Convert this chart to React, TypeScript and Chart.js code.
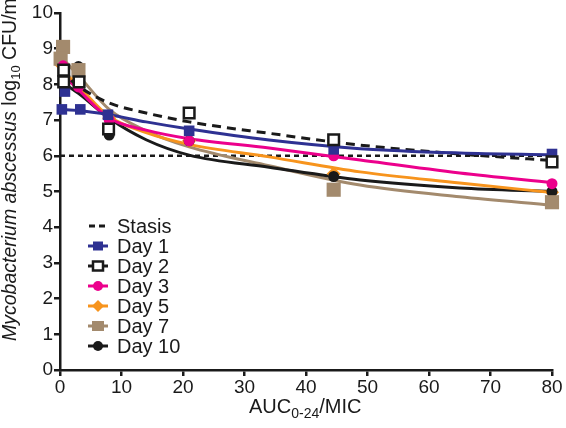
import React, { useEffect, useRef } from "react";
import { Chart, registerables } from "chart.js";

Chart.register(...registerables);

// Measured points (AUC0-24/MIC, log10 CFU/ml)
const day1X = [0.3, 0.8, 3.3, 7.8, 21, 44.5, 80];
const day1Y = [7.3, 7.8, 7.3, 7.15, 6.7, 6.18, 6.05];
const day2X = [0.6, 0.6, 3.1, 7.9, 21, 44.5, 80];
const day2Y = [8.4, 8.07, 8.07, 6.75, 7.2, 6.45, 5.83];
const day3X = [0.5, 3, 8, 21, 44.5, 80];
const day3Y = [8.52, 7.93, 7.0, 6.42, 6.0, 5.22];
const day5X = [0.2, 3, 8, 21, 44.5, 80];
const day5Y = [8.55, 8.2, 7.05, 6.42, 5.5, 4.98];
const day7X = [0.5, 0.1, 3, 44.5, 80];
const day7Y = [9.05, 8.72, 8.4, 5.05, 4.7];
const day10X = [0.3, 3, 8, 21, 44.5, 80];
const day10Y = [9.05, 8.5, 6.58, 6.42, 5.42, 5.0];

// Fitted curves
const fitX = [0, 3, 8, 14, 21, 34, 48.8, 65, 80];
const day1Fit = [7.3, 7.27, 7.15, 6.95, 6.75, 6.44, 6.2, 6.08, 6.03];
const day2Fit = [8.4, 7.95, 7.48, 7.2, 6.95, 6.63, 6.3, 6.05, 5.87];
const day3Fit = [8.35, 7.85, 7.05, 6.72, 6.48, 6.22, 5.88, 5.52, 5.25];
const day5Fit = [8.45, 7.95, 7.1, 6.65, 6.32, 5.97, 5.55, 5.24, 4.97];
const day7Fit = [8.8, 8.25, 7.3, 6.7, 6.25, 5.72, 5.18, 4.85, 4.62];
const day10Fit = [8.1, 7.75, 7.05, 6.45, 6.02, 5.68, 5.32, 5.1, 5.0];

const stasisX = [0, 80];
const stasisY = [6, 6];

const legendLabels = ["Stasis", "Day 1", "Day 2", "Day 3", "Day 5", "Day 7", "Day 10"];

const BLUE = "#2E3192";
const MAGENTA = "#EC008C";
const ORANGE = "#F7941D";
const TAN = "#A38A6D";
const BLACK = "#1A1A1A";
const FONT = "'Liberation Sans', Arial, sans-serif";

const pts = (xs: number[], ys: number[]) => xs.map((x, i) => ({ x, y: ys[i] }));

const markerSet = (label: string, xs: number[], ys: number[], style: string, radius: number, fill: string, border: string, bw: number) => ({
  label,
  data: pts(xs, ys),
  showLine: false,
  pointStyle: style,
  pointRadius: radius,
  pointBackgroundColor: fill,
  pointBorderColor: border,
  pointBorderWidth: bw,
  borderColor: border,
  backgroundColor: fill,
  clip: false as any,
});

const curveSet = (label: string, ys: number[], color: string, dash: number[] = []) => ({
  label,
  data: pts(fitX, ys),
  borderColor: color,
  borderWidth: 3,
  borderDash: dash,
  pointRadius: 0,
  cubicInterpolationMode: "monotone" as const,
  fill: false,
  clip: false as any,
});

const drawMarker = (ctx: CanvasRenderingContext2D, kind: string, x: number, y: number, fill: string, stroke: string) => {
  ctx.beginPath();
  if (kind === "rect") {
    ctx.rect(x - 5, y - 4.5, 10, 9);
  } else if (kind === "bigrect") {
    ctx.rect(x - 6, y - 5, 12, 10);
  } else if (kind === "circle") {
    ctx.arc(x, y, 5, 0, Math.PI * 2);
  } else if (kind === "diamond") {
    ctx.moveTo(x, y - 6);
    ctx.lineTo(x + 6, y);
    ctx.lineTo(x, y + 6);
    ctx.lineTo(x - 6, y);
    ctx.closePath();
  }
  ctx.fillStyle = fill;
  ctx.fill();
  if (stroke) {
    ctx.lineWidth = 2.5;
    ctx.strokeStyle = stroke;
    ctx.stroke();
  }
};

const annotPlugin = {
  id: "annot",
  afterDraw(chart: any) {
    const ctx: CanvasRenderingContext2D = chart.ctx;
    ctx.save();
    // Legend
    const legY = [226, 246, 266, 286, 306, 326, 346];
    const kinds = [
      null,
      { kind: "rect", color: BLUE, fill: BLUE, stroke: "" },
      { kind: "rect", color: BLACK, fill: "#fff", stroke: BLACK },
      { kind: "circle", color: MAGENTA, fill: MAGENTA, stroke: "" },
      { kind: "diamond", color: ORANGE, fill: ORANGE, stroke: "" },
      { kind: "bigrect", color: TAN, fill: TAN, stroke: "" },
      { kind: "circle", color: BLACK, fill: BLACK, stroke: "" },
    ];
    legendLabels.forEach((lab, i) => {
      const y = legY[i];
      const k = kinds[i];
      if (!k) {
        ctx.fillStyle = BLACK;
        ctx.fillRect(89, y - 1.5, 6, 3);
        ctx.fillRect(99, y - 1.5, 6, 3);
      } else {
        ctx.strokeStyle = k.color;
        ctx.lineWidth = 3;
        ctx.beginPath();
        ctx.moveTo(88, y);
        ctx.lineTo(108, y);
        ctx.stroke();
        drawMarker(ctx, k.kind, 98, y, k.fill, k.stroke);
      }
      ctx.fillStyle = BLACK;
      ctx.font = `20px ${FONT}`;
      ctx.textAlign = "left";
      ctx.textBaseline = "middle";
      ctx.fillText(lab, 117, y + 1);
    });

    // X title
    ctx.textBaseline = "alphabetic";
    ctx.textAlign = "left";
    let x = 249;
    const by = 413;
    ctx.font = `20px ${FONT}`;
    ctx.fillText("AUC", x, by);
    x += ctx.measureText("AUC").width;
    ctx.font = `14px ${FONT}`;
    ctx.fillText("0-24", x, by + 5);
    x += ctx.measureText("0-24").width;
    ctx.font = `20px ${FONT}`;
    ctx.fillText("/MIC", x, by);

    // Y title
    ctx.translate(16, 341);
    ctx.rotate(-Math.PI / 2);
    let t = 0;
    const parts: [string, string, number][] = [
      ["Mycobacterium abscessus", `italic 19.5px ${FONT}`, 0],
      [" log", `19.5px ${FONT}`, 0],
      ["10", `13px ${FONT}`, 4],
      [" CFU/ml", `19.5px ${FONT}`, 0],
    ];
    parts.forEach(([s, f, dy]) => {
      ctx.font = f;
      ctx.fillText(s, t, dy);
      t += ctx.measureText(s).width;
    });
    ctx.restore();
  },
};

export default function App() {
  const ref = useRef<HTMLCanvasElement>(null);
  useEffect(() => {
    if (!ref.current) return;
    const chart = new Chart(ref.current, {
      type: "line",
      data: {
        datasets: [
          markerSet("Day 2", day2X, day2Y, "rect", 7.5, "#ffffff", BLACK, 2.5),
          markerSet("Day 1", day1X, day1Y, "rect", 7.5, BLUE, BLUE, 0),
          markerSet("Day 3", day3X, day3Y, "circle", 5.5, MAGENTA, MAGENTA, 0),
          markerSet("Day 7", day7X, day7Y, "rect", 10, TAN, TAN, 0),
          markerSet("Day 10", day10X, day10Y, "circle", 5.5, BLACK, BLACK, 0),
          markerSet("Day 5", day5X, day5Y, "rectRot", 7, ORANGE, ORANGE, 0),
          curveSet("Day 1 fit", day1Fit, BLUE),
          curveSet("Day 2 fit", day2Fit, BLACK, [9, 6]),
          curveSet("Day 3 fit", day3Fit, MAGENTA),
          curveSet("Day 5 fit", day5Fit, ORANGE),
          curveSet("Day 10 fit", day10Fit, BLACK),
          curveSet("Day 7 fit", day7Fit, TAN),
          {
            label: "Stasis",
            data: pts(stasisX, stasisY),
            borderColor: BLACK,
            borderWidth: 2.5,
            borderDash: [5, 4],
            pointRadius: 0,
            fill: false,
          } as any,
        ],
      },
      options: {
        responsive: false,
        animation: false,
        layout: { padding: { top: 13, right: 14, left: 0, bottom: 0 } },
        plugins: { legend: { display: false }, tooltip: { enabled: false } },
        scales: {
          x: {
            type: "linear",
            min: 0,
            max: 80,
            ticks: { stepSize: 10, color: BLACK, font: { family: FONT, size: 19 }, padding: 0, maxRotation: 0 },
            grid: { drawOnChartArea: false, drawTicks: true, tickLength: 6, color: BLACK, lineWidth: 2.5 },
            border: { display: true, color: BLACK, width: 2.5 },
            afterFit: (s: any) => { s.height = 58; },
          },
          y: {
            type: "linear",
            min: 0,
            max: 10,
            ticks: { stepSize: 1, color: BLACK, font: { family: FONT, size: 19 }, padding: 1 },
            grid: { drawOnChartArea: false, drawTicks: true, tickLength: 6, color: BLACK, lineWidth: 2.5 },
            border: { display: true, color: BLACK, width: 2.5 },
            afterFit: (s: any) => { s.width = 60; },
          },
        },
      } as any,
      plugins: [annotPlugin],
    });
    return () => chart.destroy();
  }, []);
  return (
    <div style={{ position: "absolute", left: 0, top: 0, width: 566, height: 428, background: "#fff" }}>
      <canvas ref={ref} width={566} height={428} style={{ display: "block" }} />
    </div>
  );
}
